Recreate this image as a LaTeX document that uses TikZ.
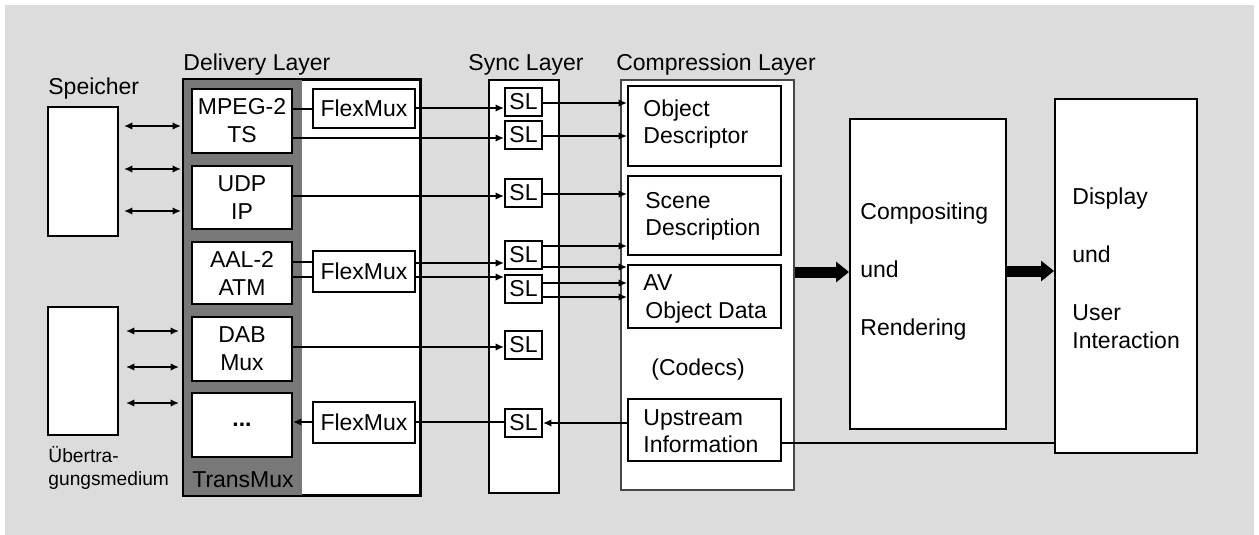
\documentclass[tikz,border=0pt]{standalone}
\usepackage{fontspec}
\setmainfont{Liberation Sans}
\usetikzlibrary{arrows.meta,fit}
\definecolor{bgc}{RGB}{220,220,220}
\definecolor{darkc}{RGB}{120,120,120}
\definecolor{compc}{RGB}{70,70,70}
\begin{document}
\begin{tikzpicture}[x=0.5pt,y=-0.5pt,
  box/.style={draw=black,line width=1pt,fill=white,inner sep=0pt},
  txt/.style={inner sep=0pt,font=\fontsize{11.5}{14}\selectfont},
  ctxt/.style={txt,align=center},
  small/.style={inner sep=0pt,font=\fontsize{9.6}{11}\selectfont},
  conn/.style={line width=0.9pt},
  arr/.style={conn,-{Latex[length=4.2pt,width=3.8pt]}},
  dbl/.style={conn,{Latex[length=4.2pt,width=3.8pt]}-{Latex[length=4.2pt,width=3.8pt]}},
  bigarr/.style={line width=5.5pt,-{Triangle[length=6.5pt,width=10pt]}},
]
\useasboundingbox (0,0) rectangle (1259,535);
\fill[bgc] (5,5) rectangle (1254,535);

% layer frames
\node[box,fit={(184,80)(420,495)}] (delivery) {};
\fill[darkc] (184,80) rectangle (302,495);
\draw[line width=1pt] (delivery.north west) rectangle (delivery.south east);
\node[box,fit={(489,80)(559,493)}] (sync) {};
\node[box,draw=compc,line width=1.2pt,fit={(621,80)(794,490)}] (comp) {};

% storage and transmission media
\node[box,fit={(48,107)(118,236)}] (speicher) {};
\node[box,fit={(48,307)(118,435)}] (medium) {};

% TransMux protocols
\node[box,fit={(192,89)(292,153)}] (mpeg) {};
\node[box,fit={(192,166)(292,229)}] (udp) {};
\node[box,fit={(192,242)(292,304)}] (aal) {};
\node[box,fit={(192,317)(292,381)}] (dab) {};
\node[box,fit={(192,393)(292,457)}] (dots) {};
\node[ctxt] (mpegtxt) at (mpeg) {MPEG-2\\TS};
\node[ctxt] (udptxt) at (udp) {UDP\\IP};
\node[ctxt] (aaltxt) at (aal) {AAL-2\\ATM};
\node[ctxt] (dabtxt) at (dab) {DAB\\Mux};
\node[ctxt] (dotstxt) at (dots) {\textbf{...}};

% FlexMux
\node[box,fit={(313,89)(415,128)}] (flex1) {};
\node[box,fit={(313,251)(415,292)}] (flex2) {};
\node[box,fit={(313,402)(415,443)}] (flex3) {};
\foreach \f in {flex1,flex2,flex3}
  \node[txt] (\f txt) at (\f) {FlexMux};

% sync layer packetizers
\node[box,fit={(505,88)(542,116)}] (sl1) {};
\node[box,fit={(505,121)(542,149)}] (sl2) {};
\node[box,fit={(505,179)(542,207)}] (sl3) {};
\node[box,fit={(505,241)(542,269)}] (sl4) {};
\node[box,fit={(505,275)(542,303)}] (sl5) {};
\node[box,fit={(505,331)(542,359)}] (sl6) {};
\node[box,fit={(505,409)(542,437)}] (sl7) {};
\foreach \s in {sl1,sl2,sl3,sl4,sl5,sl6,sl7}
  \node[txt] (\s txt) at (\s) {SL};

% compression layer
\node[box,fit={(628,86)(781,166)}] (od) {};
\node[box,fit={(628,176)(781,255)}] (sd) {};
\node[box,fit={(628,265)(781,328)}] (av) {};
\node[box,fit={(628,399)(781,461)}] (up) {};

% presentation
\node[box,fit={(850,119)(1006,429)}] (compositing) {};
\node[box,fit={(1055,99)(1197,453)}] (display) {};

% labels
\node[txt,anchor=base west] (speicherlbl) at (48,95) {Speicher};
\node[txt,anchor=base west] (dellbl) at (183,71) {Delivery Layer};
\node[txt,anchor=base] (synclbl) at (526,71) {Sync Layer};
\node[txt,anchor=base] (complbl) at (716,71) {Compression Layer};
\node[small,anchor=base west] (med1) at (48,462) {Übertra-};
\node[small,anchor=base west] (med2) at (48,485) {gungsmedium};
\node[txt,anchor=base] (transmux) at (243,487) {TransMux};
\node[txt,anchor=base west] (od1) at (643,117) {Object};
\node[txt,anchor=base west] (od2) at (643,144) {Descriptor};
\node[txt,anchor=base west] (sd1) at (645,208) {Scene};
\node[txt,anchor=base west] (sd2) at (645,235) {Description};
\node[txt,anchor=base west] (av1) at (643,290) {AV};
\node[txt,anchor=base west] (av2) at (645,318) {Object Data};
\node[txt,anchor=base west] (codecs) at (651,375) {(Codecs)};
\node[txt,anchor=base west] (up1) at (643,425) {Upstream};
\node[txt,anchor=base west] (up2) at (643,452) {Information};
\node[txt,anchor=base west] (cr1) at (860,220) {Compositing};
\node[txt,anchor=base west] (cr2) at (860,277) {und};
\node[txt,anchor=base west] (cr3) at (860,335) {Rendering};
\node[txt,anchor=base west] (du1) at (1072,205) {Display};
\node[txt,anchor=base west] (du2) at (1072,262) {und};
\node[txt,anchor=base west] (du3) at (1072,320) {User};
\node[txt,anchor=base west] (du4) at (1072,348) {Interaction};

% media <-> delivery
\foreach \y in {126,169,211}
  \draw[dbl,shorten <=2.5pt,shorten >=1pt] (speicher.east |- 0,\y) -- (delivery.west |- 0,\y);
\foreach \y in {331,367,403}
  \draw[dbl,shorten <=3.5pt,shorten >=2pt] (medium.east |- 0,\y) -- (delivery.west |- 0,\y);

% delivery -> sync
\draw[conn] (mpeg.east |- 0,109) -- (flex1.west |- 0,109);
\draw[arr] (flex1.east |- 0,108) -- (sl1.west |- 0,108);
\draw[arr] (mpeg.east |- 0,138) -- (sl2.west |- 0,138);
\draw[arr] (udp.east |- 0,196) -- (sl3.west |- 0,196);
\draw[conn] (aal.east |- 0,262) -- (flex2.west |- 0,262);
\draw[conn] (aal.east |- 0,277) -- (flex2.west |- 0,277);
\draw[arr] (flex2.east |- 0,263) -- (sl4.west |- 0,263);
\draw[arr] (flex2.east |- 0,277) -- (sl5.west |- 0,277);
\draw[arr] (dab.east |- 0,347) -- (sl6.west |- 0,347);
\draw[conn] (sl7.west |- 0,422) -- (flex3.east |- 0,422);
\draw[arr] (flex3.west |- 0,422) -- (dots.east |- 0,422);

% sync -> compression
\draw[arr] (sl1.east |- 0,103) -- (od.west |- 0,103);
\draw[arr] (sl2.east |- 0,136) -- (od.west |- 0,136);
\draw[arr] (sl3.east |- 0,194) -- (sd.west |- 0,194);
\draw[arr] (sl4.east |- 0,246) -- (sd.west |- 0,246);
\draw[arr] (sl4.east |- 0,267) -- (av.west |- 0,267);
\draw[arr] (sl5.east |- 0,283) -- (av.west |- 0,283);
\draw[arr] (sl5.east |- 0,297) -- (av.west |- 0,297);
\draw[arr] (up.west |- 0,423) -- (sl7.east |- 0,423);

% upstream to display, main flow
\draw[conn] (up.east |- 0,443) -- (display.west |- 0,443);
\draw[bigarr] (comp.east |- 0,272) -- (compositing.west |- 0,272);
\draw[bigarr] (compositing.east |- 0,271) -- (display.west |- 0,271);
\end{tikzpicture}
\end{document}
